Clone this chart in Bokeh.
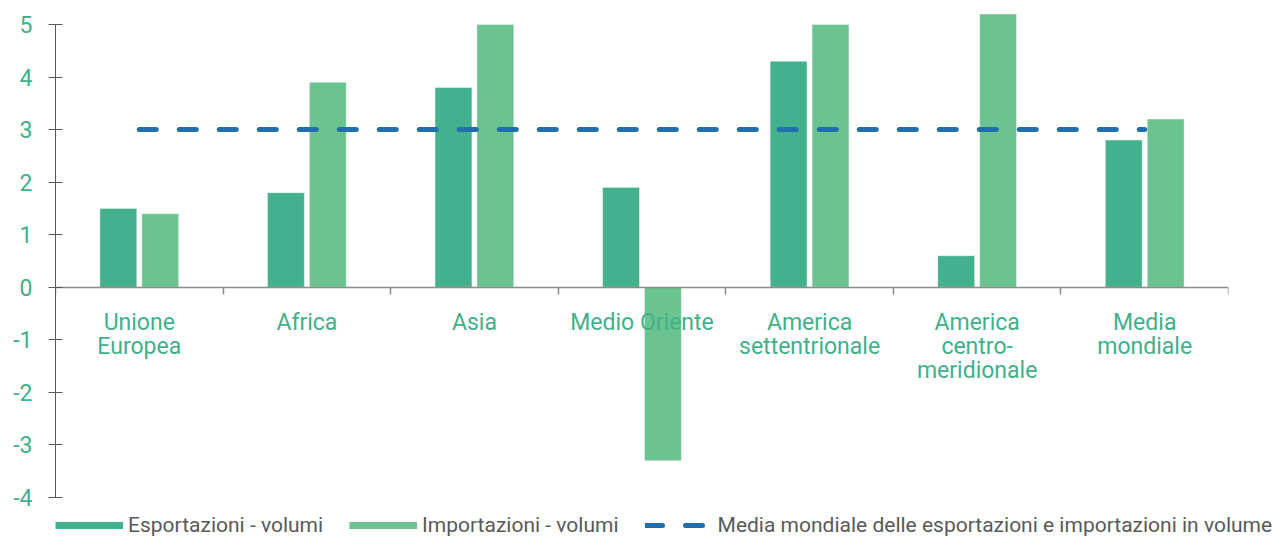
from bokeh.plotting import figure
from bokeh.models import ColumnDataSource, FixedTicker, Legend, LegendItem, Range1d, LinearAxis
from bokeh.core.properties import value
from bokeh.embed import file_html
from bokeh.resources import INLINE

categories = ["Unione\nEuropea", "Africa", "Asia", "Medio Oriente",
              "America\nsettentrionale", "America\ncentro-\nmeridionale", "Media\nmondiale"]
esportazioni = [1.5, 1.8, 3.8, 1.9, 4.3, 0.6, 2.8]
importazioni = [1.4, 3.9, 5.0, -3.3, 5.0, 5.2, 3.2]
media_mondiale = [3.0, 3.0, 3.0, 3.0, 3.0, 3.0, 3.0]
y_ticks = [-4, -3, -2, -1, 0, 1, 2, 3, 4, 5]

EXP = "#43B08E"
IMP = "#6BC48F"
LINE = "#1F6FAE"
GREEN_TXT = "#41B08B"
FONT = "Roboto"

n = len(categories)
centers = [i + 0.5 for i in range(n)]
src = ColumnDataSource(dict(
    x=centers,
    xe=[c - 0.125 for c in centers],
    xi=[c + 0.125 for c in centers],
    exp=esportazioni, imp=importazioni, avg=media_mondiale, lab=categories,
))

PX = 52.55
FH = 513
y_end = 5 + 24 / PX
y_start = y_end - FH / PX

p = figure(frame_width=1173, frame_height=FH, output_backend="svg", toolbar_location=None,
           x_range=Range1d(0, n), y_range=Range1d(y_start, y_end),
           x_axis_location=None,
           min_border_left=55, min_border_right=57, min_border_top=0, min_border_bottom=0)
p.outline_line_color = None
p.xgrid.visible = False
p.ygrid.visible = False
p.background_fill_color = "white"
p.border_fill_color = "white"

r_exp = p.vbar(x="xe", top="exp", bottom=0, width=0.22, source=src, fill_color=EXP,
               line_color="white", line_alpha=0.4, line_width=1)
r_imp = p.vbar(x="xi", top="imp", bottom=0, width=0.22, source=src, fill_color=IMP,
               line_color="white", line_alpha=0.4, line_width=1)
r_avg = p.line(x="x", y="avg", source=src, line_color=LINE, line_width=5,
               line_dash="17 23", line_cap="round")

p.text(x="x", y=0, text="lab", source=src, y_offset=22, text_align="center",
       text_baseline="top", text_font=value(FONT), text_font_size="23px",
       text_color=GREEN_TXT, text_line_height=0.88)

# y axis
ya = p.yaxis[0]
ya.ticker = FixedTicker(ticks=y_ticks)
ya.major_label_overrides = {t: str(t) for t in y_ticks}
ya.bounds = (-4, 5)
ya.axis_line_color = "#595959"
ya.major_tick_line_color = "#595959"
ya.major_tick_out = 7
ya.major_tick_in = 7
ya.minor_tick_line_color = None
ya.major_label_standoff = 16
ya.major_label_text_font = FONT
ya.major_label_text_font_size = "23px"
ya.major_label_text_color = GREEN_TXT

# x axis drawn at zero (ticks at category boundaries)
xa = LinearAxis(fixed_location=0)
xa.ticker = FixedTicker(ticks=list(range(n + 1)))
xa.axis_line_color = "#8C8C8C"
xa.axis_line_width = 1.5
xa.major_tick_line_color = "#8C8C8C"
xa.major_tick_line_width = 1.5
xa.major_tick_out = 0
xa.major_tick_in = 7
xa.minor_tick_line_color = None
xa.major_label_text_font_size = "0px"
xa.major_label_standoff = 0
p.add_layout(xa, "above")

# legend proxies (line style markers, no visible data)
nan = float("nan")
l_exp = p.line(x=[0.5], y=[nan], line_color=EXP, line_width=7)
l_imp = p.line(x=[0.5], y=[nan], line_color=IMP, line_width=7)

legend = Legend(items=[
    LegendItem(label="Esportazioni - volumi", renderers=[l_exp]),
    LegendItem(label="Importazioni - volumi", renderers=[l_imp]),
    LegendItem(label="Media mondiale delle esportazioni e importazioni in volume", renderers=[r_avg]),
], orientation="horizontal", location="top_left")
legend.glyph_width = 68
legend.glyph_height = 20
legend.label_standoff = 5
legend.spacing = 26
legend.padding = 0
legend.margin = 0
legend.border_line_color = None
legend.background_fill_alpha = 0
legend.label_text_font = FONT
legend.label_text_font_size = "21px"
legend.label_text_color = "#595959"
p.add_layout(legend, "below")

open("out.html", "w").write(file_html(p, INLINE))
